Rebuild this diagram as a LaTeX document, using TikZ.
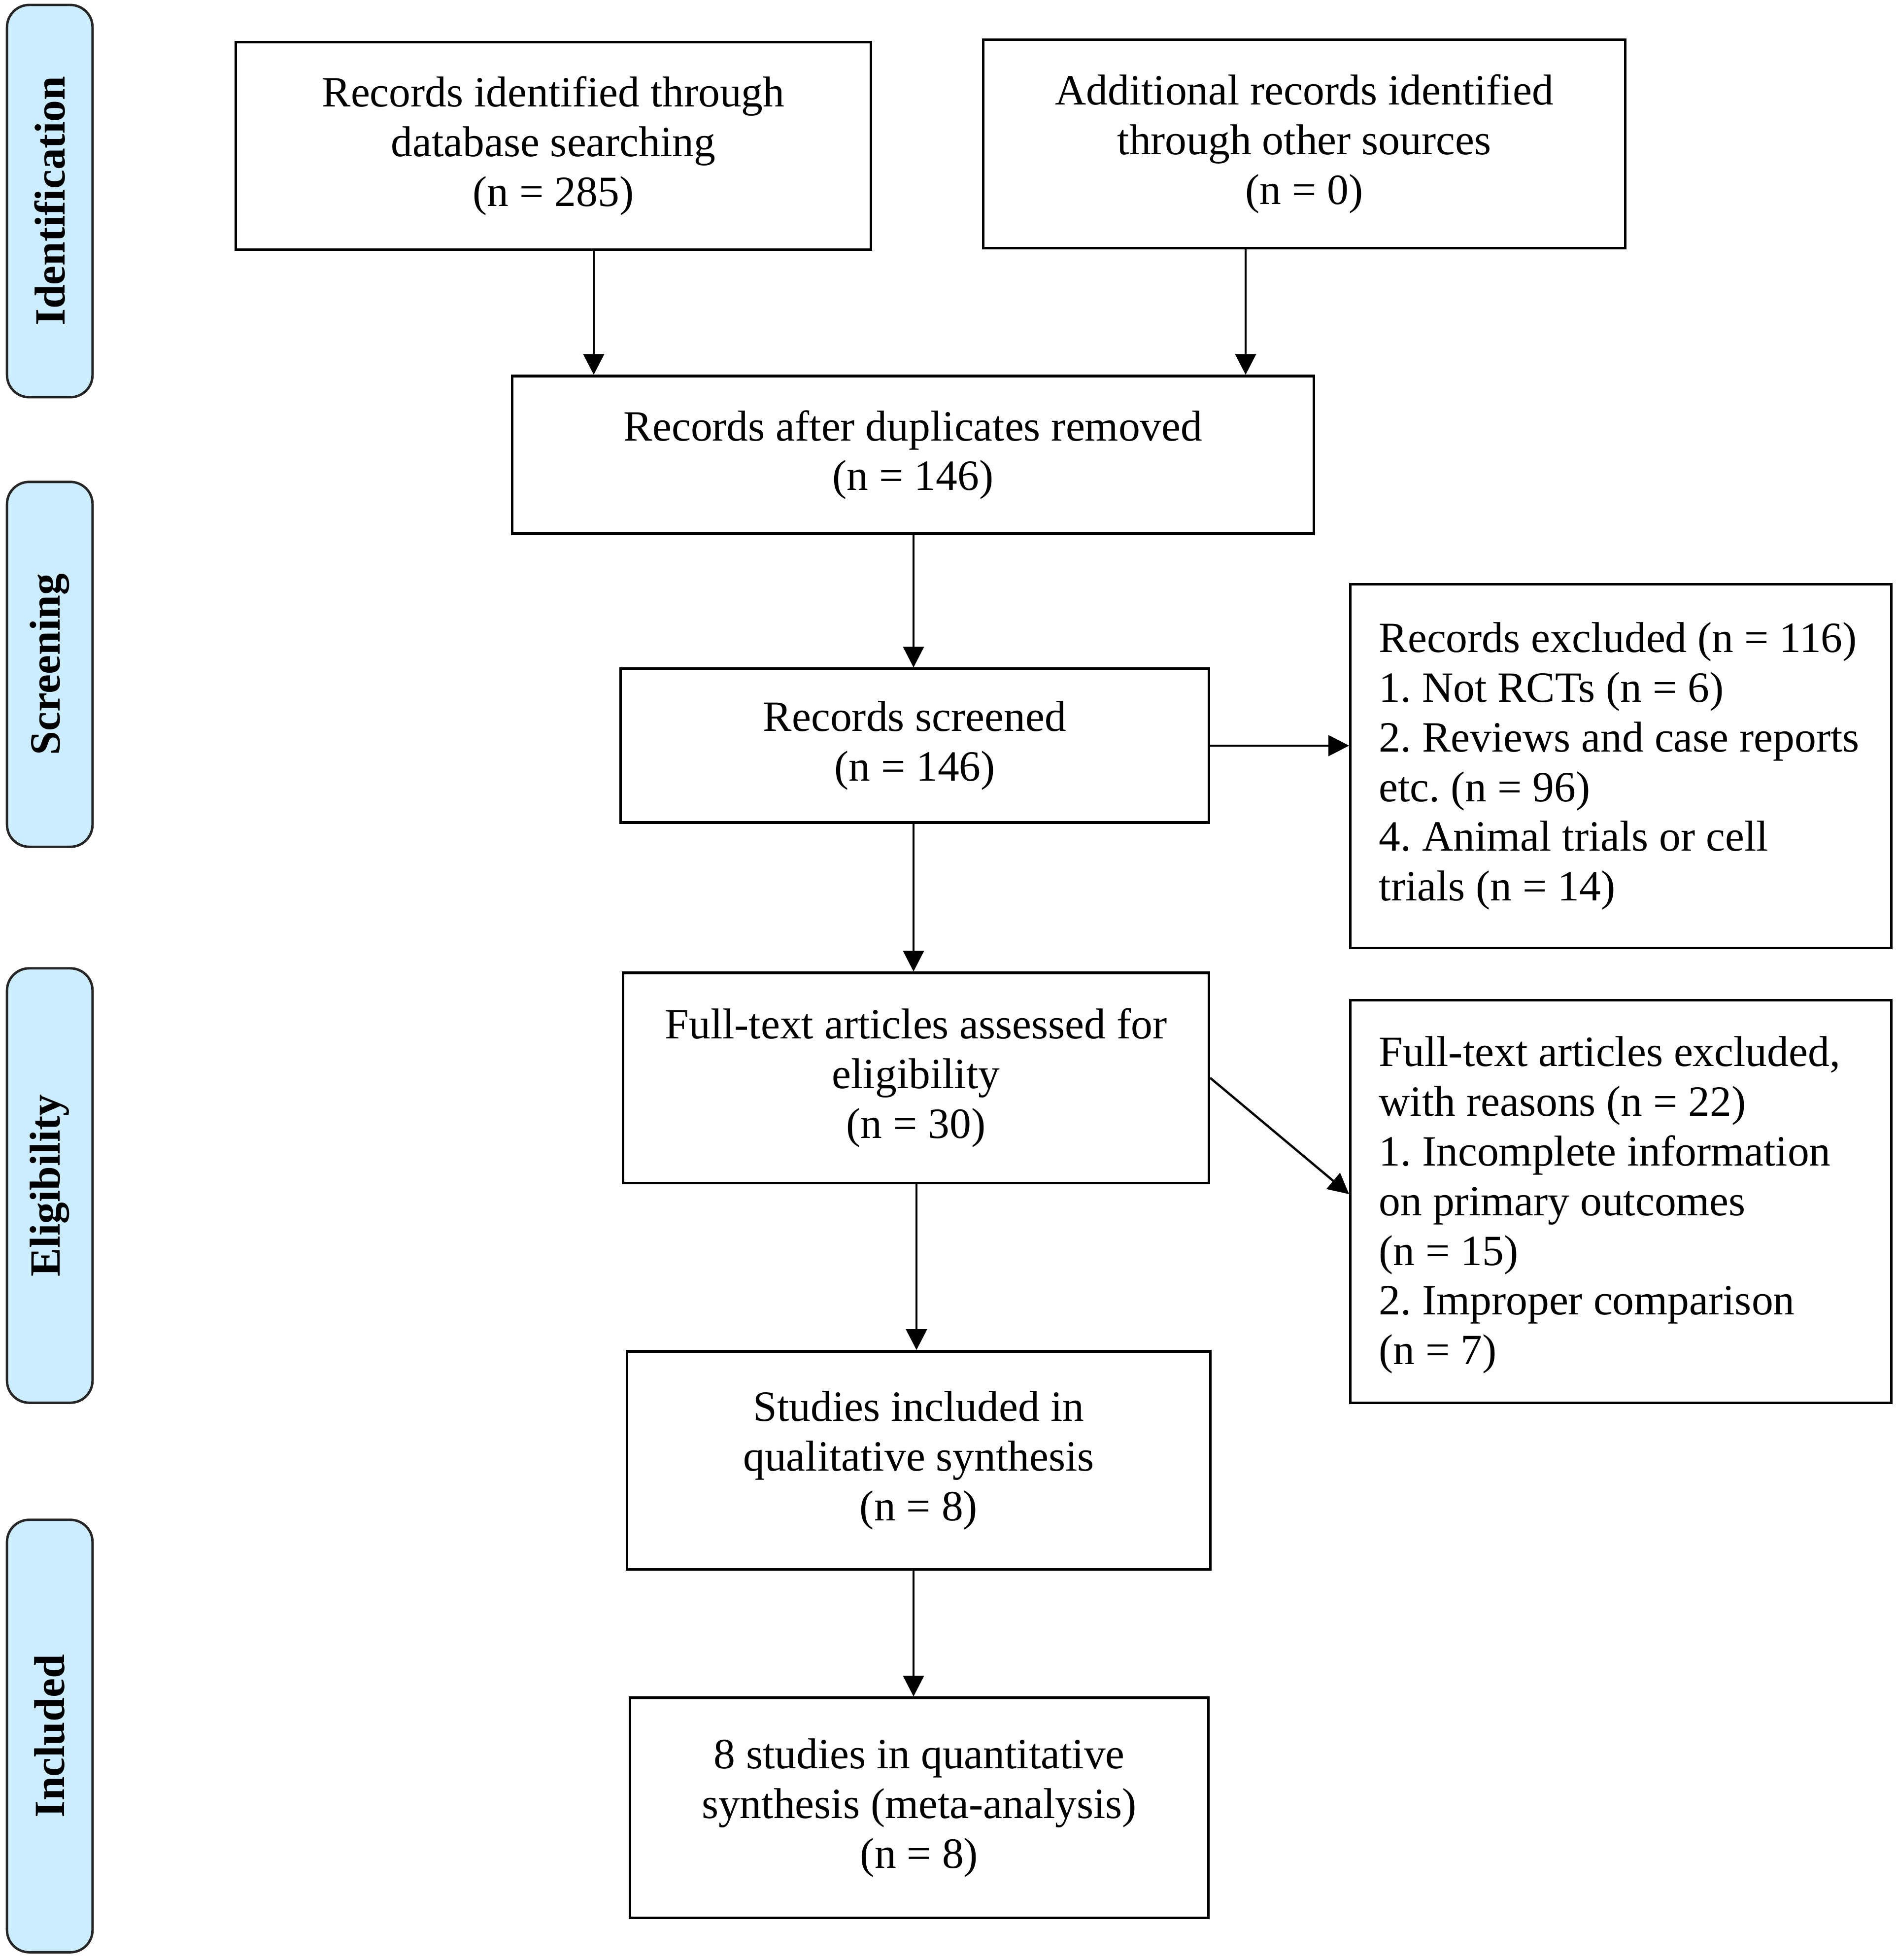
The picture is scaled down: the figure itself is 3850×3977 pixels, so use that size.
\documentclass[tikz,border=0pt]{standalone}
\usepackage{fontspec}
\setmainfont{Liberation Serif}
\usetikzlibrary{arrows.meta}
\definecolor{sidefill}{RGB}{204,236,255}
\begin{document}
\begin{tikzpicture}[x=0.01cm,y=-0.01cm,
  txt/.style={font=\fontsize{24.9}{28.7}\selectfont\frenchspacing},
  flowbox/.style={draw, line width=1.5pt, txt, align=center, inner sep=0pt},
  listbox/.style={draw, line width=1.5pt, minimum width=10.97cm, inner sep=0pt},
  listtext/.style={txt, align=left, anchor=west, inner sep=0pt},
  sidebox/.style={draw=black!85, fill=sidefill, line width=1.4pt, rounded corners=0.45cm, rotate=90, font=\fontsize{24.9}{28.7}\selectfont\bfseries, minimum height=1.735cm, inner sep=0pt},
  arr/.style={line width=1.3pt, -{Triangle[length=0.42cm,width=0.42cm]}}
]
\useasboundingbox (0,0) rectangle (3850,3977);

% side labels
\node[sidebox, minimum width=7.955cm] (s1) at (101,408) {Identification};
\node[sidebox, minimum width=7.40cm] (s2) at (101,1348) {Screening};
\node[sidebox, minimum width=8.81cm] (s3) at (101,2405.5) {Eligibility};
\node[sidebox, minimum width=8.77cm] (s4) at (101,3522.5) {Included};

% flow boxes
\node[flowbox, minimum width=12.88cm, minimum height=4.21cm] (b1) at (1123,296) {Records identified through\\database searching\\(n = 285)};
\node[flowbox, minimum width=13.02cm, minimum height=4.23cm] (b2) at (2647,292) {Additional records identified\\through other sources\\(n = 0)};
\node[flowbox, minimum width=16.26cm, minimum height=3.20cm] (b3) at (1853,923) {Records after duplicates removed\\(n = 146)};
\node[flowbox, minimum width=11.93cm, minimum height=3.12cm] (b4) at (1856.5,1513) {Records screened\\(n = 146)};
\node[listbox, minimum height=7.37cm] (b5) at (3289.5,1554.5) {};
\node[listtext] (t5) at (2798,1554.5) {Records excluded (n = 116)\\1. Not RCTs (n = 6)\\2. Reviews and case reports\\etc. (n = 96)\\4. Animal trials or cell\\trials (n = 14)};
\node[flowbox, minimum width=11.88cm, minimum height=4.26cm] (b6) at (1859,2187) {Full-text articles assessed for\\eligibility\\(n = 30)};
\node[listbox, minimum height=8.16cm] (b7) at (3289.5,2438) {};
\node[listtext] (t7) at (2798,2445) {Full-text articles excluded,\\with reasons (n = 22)\\1. Incomplete information\\on primary outcomes\\(n = 15)\\2. Improper comparison\\(n = 7)};
\node[flowbox, minimum width=11.83cm, minimum height=4.42cm] (b8) at (1864.5,2963) {Studies included in\\qualitative synthesis\\(n = 8)};
\node[flowbox, minimum width=11.73cm, minimum height=4.46cm] (b9) at (1865.5,3668) {8 studies in quantitative\\synthesis (meta-analysis)\\(n = 8)};

% arrow columns
\coordinate (x1) at (1205,0);
\coordinate (x2) at (2528,0);
\coordinate (x3) at (1854,0);
\coordinate (x4) at (1860,0);

\draw[arr] (b1.south -| x1) -- (b3.north -| x1);
\draw[arr] (b2.south -| x2) -- (b3.north -| x2);
\draw[arr] (b3.south -| x3) -- (b4.north -| x3);
\draw[arr] (b4.east) -- (b5.west |- b4.east);
\draw[arr] (b4.south -| x3) -- (b6.north -| x3);
\draw[arr] (b6.east) -- ([yshift=0.15cm]b7.west);
\draw[arr] (b6.south -| x4) -- (b8.north -| x4);
\draw[arr] (b8.south -| x3) -- (b9.north -| x3);
\end{tikzpicture}
\end{document}
